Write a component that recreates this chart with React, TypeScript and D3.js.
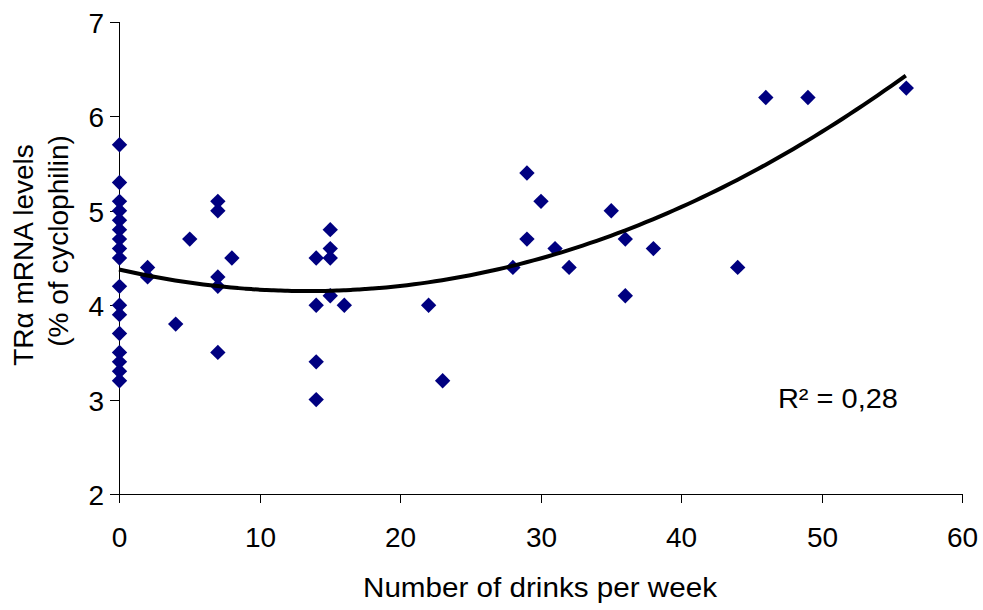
import React from 'react'
import * as d3 from 'd3'

// drinks per week (x) and TRα mRNA levels (y)
const drinks = [
  0, 0, 0, 0, 0, 0, 0, 0, 0, 0, 0, 0, 0, 0, 0, 0, 0,
  2, 2, 4, 5, 7, 7, 7, 7, 7, 8,
  14, 14, 14, 14, 15, 15, 15, 15, 16,
  22, 23, 28, 29, 29, 30, 31, 32, 35, 36, 36, 38, 44, 46, 49, 56,
]
const mrna = [
  5.7, 5.3, 5.1, 5.0, 4.9, 4.8, 4.7, 4.6, 4.5, 4.2, 4.0, 3.9, 3.7, 3.5, 3.4, 3.3, 3.2,
  4.4, 4.3, 3.8, 4.7, 5.1, 5.0, 4.3, 4.2, 3.5, 4.5,
  4.5, 4.0, 3.4, 3.0, 4.8, 4.6, 4.5, 4.1, 4.0,
  4.0, 3.2, 4.4, 5.4, 4.7, 5.1, 4.6, 4.4, 5.0, 4.7, 4.1, 4.6, 4.4, 6.2, 6.2, 6.3,
]
const xTicks = [0, 10, 20, 30, 40, 50, 60]
const yTicks = [2, 3, 4, 5, 6, 7]
const rSquaredLabel = 'R² = 0,28'

const W = 983
const H = 610
const margin = { top: 22, right: 21, bottom: 116, left: 119 }
const font = '"Liberation Sans", Arial, sans-serif'

// least squares fit of y = a + b x + c x^2
const quadFit = (xs: number[], ys: number[]) => {
  const s = [0, 0, 0, 0, 0]
  const t = [0, 0, 0]
  xs.forEach((x, i) => {
    for (let k = 0; k < 5; k++) s[k] += Math.pow(x, k)
    for (let k = 0; k < 3; k++) t[k] += ys[i] * Math.pow(x, k)
  })
  const m = [
    [s[0], s[1], s[2], t[0]],
    [s[1], s[2], s[3], t[1]],
    [s[2], s[3], s[4], t[2]],
  ]
  for (let i = 0; i < 3; i++) {
    for (let j = i + 1; j < 3; j++) {
      const f = m[j][i] / m[i][i]
      for (let k = i; k < 4; k++) m[j][k] -= f * m[i][k]
    }
  }
  const c = [0, 0, 0]
  for (let i = 2; i >= 0; i--) {
    let v = m[i][3]
    for (let k = i + 1; k < 3; k++) v -= m[i][k] * c[k]
    c[i] = v / m[i][i]
  }
  return c
}

const App = () => {
  const innerW = W - margin.left - margin.right
  const innerH = H - margin.top - margin.bottom

  const x = d3.scaleLinear().domain([0, 60]).range([0, innerW])
  const y = d3.scaleLinear().domain([2, 7]).range([innerH, 0])

  const [a, b, c] = quadFit(drinks, mrna)
  const xMax = d3.max(drinks) as number
  const curveX = d3.range(0, xMax + 0.001, 0.5)
  const line = d3
    .line<number>()
    .x((d) => x(d))
    .y((d) => y(a + b * d + c * d * d))
    .curve(d3.curveMonotoneX)

  const diamond = d3.symbol().type(d3.symbolSquare).size(118)()

  return (
    <svg width={W} height={H} style={{ position: 'absolute', left: 0, top: 0, background: '#fff' }}>
      <g transform={`translate(${margin.left},${margin.top})`} fontFamily={font}>
        {/* y axis */}
        <line x1={0.5} x2={0.5} y1={0} y2={innerH} stroke="#000" />
        {yTicks.map((t) => (
          <g key={t} transform={`translate(0,${Math.round(y(t)) + 0.5})`}>
            <line x1={-9} x2={0} stroke="#000" />
            <text x={-15} dy="0.36em" textAnchor="end" fontSize={28}>
              {t}
            </text>
          </g>
        ))}
        {/* x axis */}
        <line x1={0} x2={innerW} y1={innerH + 0.5} y2={innerH + 0.5} stroke="#000" />
        {xTicks.map((t) => (
          <g key={t} transform={`translate(${Math.round(x(t)) + 0.5},${innerH})`}>
            <line y1={0} y2={9} stroke="#000" />
            <text y={53} textAnchor="middle" fontSize={28}>
              {t}
            </text>
          </g>
        ))}

        {/* points */}
        {drinks.map((d, i) => (
          <path
            key={i}
            d={diamond as string}
            transform={`translate(${x(d) + 0.5},${y(mrna[i])}) rotate(45)`}
            fill="#000080"
          />
        ))}

        {/* polynomial trend line */}
        <path d={line(curveX) as string} fill="none" stroke="#000" strokeWidth={4} />

        <text
          x={x(46.9)}
          y={y(2.915)}
          fontSize={27}
          textLength={120}
          lengthAdjust="spacingAndGlyphs"
        >
          {rSquaredLabel}
        </text>
      </g>

      <text
        x={540}
        y={597}
        textAnchor="middle"
        fontSize={27}
        fontFamily={font}
        textLength={354}
        lengthAdjust="spacingAndGlyphs"
      >
        Number of drinks per week
      </text>
      <g fontFamily={font} fontSize={28}>
        <text transform="translate(33,255) rotate(-90)" textAnchor="middle">
          TRα mRNA levels
        </text>
        <text transform="translate(68,241) rotate(-90)" textAnchor="middle">
          (% of cyclophilin)
        </text>
      </g>
    </svg>
  )
}

export default App
